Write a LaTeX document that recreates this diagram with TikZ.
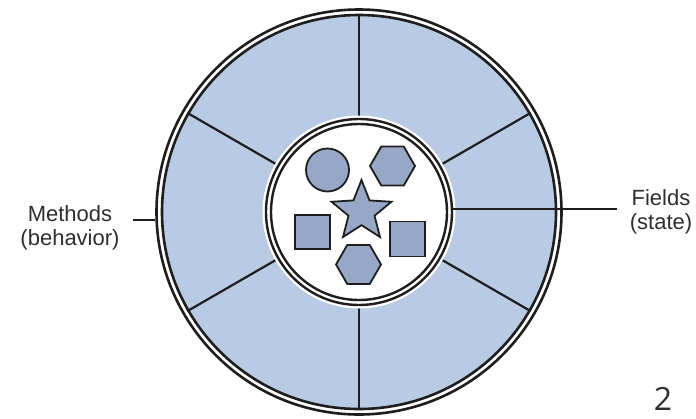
\documentclass[tikz,border=0pt]{standalone}
\usepackage{fontspec}
\setmainfont{Liberation Sans}
\newfontfamily\slidefont{Open Sans}
\usetikzlibrary{shapes.geometric}
\definecolor{cring}{HTML}{B8CAE4}
\definecolor{cshape}{HTML}{97A8C6}
\definecolor{cline}{HTML}{1E1E1E}
\definecolor{ctext}{HTML}{2E2E2E}
\tikzset{
  every picture/.style={line width=1.8pt},
  rimline/.style={circle, draw=cline, inner sep=0pt, line width=2.6pt},
  spoke/.style={draw=cline, line width=2.2pt},
  link/.style={draw=cline, line width=2.6pt},
  item/.style={draw=cline, fill=cshape, line width=1.8pt, inner sep=0pt},
  label/.style={font=\fontsize{22}{24}\selectfont, text=ctext, align=center},
}
\begin{document}
\begin{tikzpicture}[x=1pt, y=-1pt]
  \useasboundingbox (0,0) rectangle (696,418);
  \coordinate (c) at (359,212);
  % outer wheel, double rim
  \node[rimline, minimum size=405pt] (rim) at (c) {};
  \node[rimline, fill=cring, minimum size=394pt] (disc) at (c) {};
  \foreach \a in {30,90,...,330}
    \draw[spoke] (c) -- (disc.\a);
  % hub with white glow
  \node[circle, draw=white, line width=7pt, minimum size=186pt, inner sep=0pt] at (c) {};
  \node[rimline, fill=white, line width=2.4pt, minimum size=186pt] (hub) at (c) {};
  \node[rimline, line width=2.4pt, minimum size=176pt] (hubin) at (c) {};
  % fields and methods
  \node[item, circle, minimum size=43pt] (ball) at (327.5,170) {};
  \node[item, regular polygon, regular polygon sides=6, minimum size=45pt] (hexa) at (392.5,166) {};
  \node[item, star, star points=5, star point ratio=2.3, minimum size=63pt] (stella) at (361.5,211.5) {};
  \node[item, rectangle, minimum width=35pt, minimum height=34pt] (boxl) at (312.5,232) {};
  \node[item, rectangle, minimum width=35pt, minimum height=35pt] (boxr) at (407.5,239) {};
  \node[item, regular polygon, regular polygon sides=6, minimum size=45pt] (hexb) at (358.5,264.5) {};
  % labels
  \node[label, inner sep=0pt] (fields) at (661,211.5) {Fields\\(state)};
  \node[label, inner sep=0pt] (methods) at (70,227.5) {Methods\\(behavior)};
  \coordinate (fend) at (617,209);
  \coordinate (mend) at (133,220);
  \draw[link] (hub.east |- fend) -- (fend);
  \draw[link] (mend) -- (rim.west |- mend);
  \node[font=\slidefont\fontsize{32}{36}\selectfont, text=ctext] (page) at (663,399) {2};
\end{tikzpicture}
\end{document}
